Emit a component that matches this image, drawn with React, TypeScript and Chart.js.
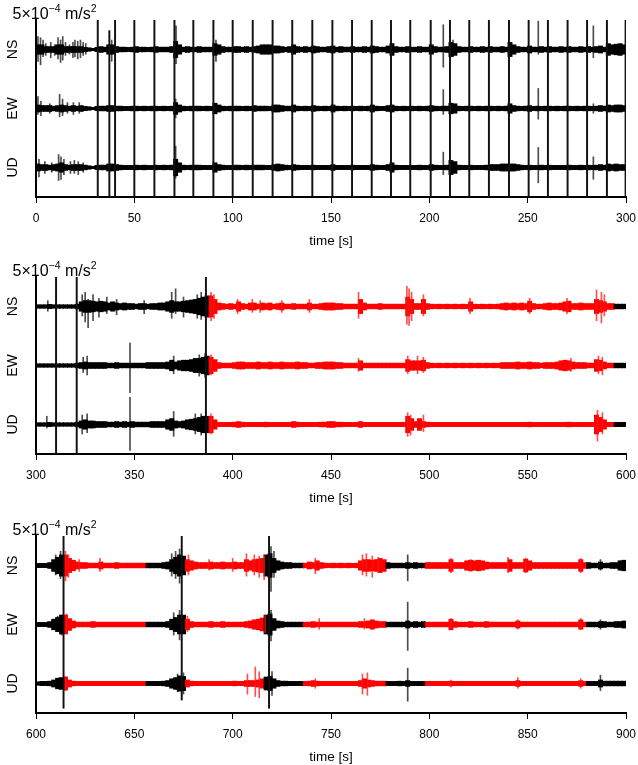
import { useEffect, useRef } from 'react';
import { Chart, registerables } from 'chart.js';

Chart.register(...registerables);

const FONT = '"Liberation Sans", Arial, Helvetica, sans-serif';

// channel names and vertical offsets (units of 1e-5 m/s^2, trace spacing = 5e-4 m/s^2)
const CHANNELS = ['NS', 'EW', 'UD'];
const OFFSETS = [100, 50, 0];
const Y_MIN = -25;
const Y_MAX = 125;
const BIN = 2; // seconds per envelope bin
const SPAN = 300;
const TICK_STEP = 50;
const X_TITLE = 'time [s]';
const TITLE_PARTS: [string, number, number][] = [
  ['5×10', 16, 0],
  ['−4', 10.5, -6.5],
  [' m/s', 16, 0],
  ['2', 10.5, -6.5],
];

const PANEL_STARTS = [0, 300, 600];

// ---------- panel 1 (0-300 s) envelope half-amplitudes, 2-s bins ----------
const p1NS = [
  4, 4, 2.5, 2.5, 2.5, 4, 4, 2.5, 2.5, 2.5,
  2.5, 2.5, 1.8, 1.5, 1, 1.8, 2.5, 2, 4, 4,
  2.5, 2, 2, 1.8, 2, 2.5, 2, 2, 1.8, 2,
  2.5, 2, 2, 2, 2.5, 7, 4, 2, 2.5, 2,
  2, 2.5, 2, 2, 2, 5, 4, 2.5, 2, 2,
  2.5, 2.5, 2, 2.5, 2, 2.5, 3, 4, 4, 4,
  3, 3, 2.5, 2, 2.5, 4, 2.5, 2, 2.5, 2,
  3, 2.5, 2, 2, 2.5, 3, 2, 2.5, 2, 2,
  2.5, 2, 2, 2.5, 2, 3, 2.5, 2, 2, 3,
  5, 2.5, 2, 2, 2.5, 2, 2, 2.5, 2, 2,
  4, 2.5, 2, 2, 2.5, 6, 5, 2.5, 2, 2,
  2.5, 2, 2, 2.5, 2, 2.5, 2, 2, 2.5, 2,
  6, 4, 2.5, 2, 2, 3, 2, 2, 2.5, 2,
  2.5, 2, 2, 2.5, 2, 2.5, 2, 2, 2.5, 2,
  2.5, 2, 2.5, 3, 2, 5, 4, 4.5, 5, 4,
];
const p1EW = [
  3, 2.5, 2.5, 2.5, 2, 2.5, 3, 2.5, 2, 2.5,
  2, 2.5, 1.8, 1.5, 1, 1.8, 2, 2, 2.5, 2.5,
  2, 2, 1.8, 1.8, 2, 2, 1.8, 2, 1.8, 2,
  2, 1.8, 2, 1.8, 2, 5, 3, 2, 1.8, 2,
  2, 2, 1.8, 2, 1.8, 4.5, 3, 2, 1.8, 2,
  2, 2, 1.8, 2, 1.8, 2.5, 2, 2, 2, 1.8,
  3, 3, 2.5, 2, 2, 3, 2, 1.8, 2, 1.8,
  2.5, 2, 1.8, 2, 1.8, 3, 2, 1.8, 2, 1.8,
  2, 1.8, 2, 1.8, 2, 3, 2, 1.8, 1.8, 2.5,
  3, 2, 1.8, 2, 1.8, 2, 1.8, 2, 1.8, 2,
  2.5, 2, 1.8, 2, 2, 4.5, 4, 2, 1.8, 2,
  2, 1.8, 2, 1.8, 2, 2, 1.8, 2, 1.8, 2,
  4, 2.5, 2, 1.8, 2, 2.5, 1.8, 2, 1.8, 2,
  2, 1.8, 2, 1.8, 2, 2, 1.8, 2, 1.8, 2,
  2, 1.8, 2, 2.5, 2, 3, 2.5, 3, 3, 2.5,
];
const p1UD = [
  3, 2.5, 2.5, 2, 2.5, 3, 4, 2.5, 2, 2.5,
  2.5, 2.5, 2, 1.5, 1, 1.8, 2, 2, 3, 3,
  2.5, 2, 1.8, 1.8, 1.8, 2, 1.8, 2, 1.8, 1.8,
  2, 1.8, 2, 1.8, 2, 7, 4, 2, 1.8, 2,
  2, 2, 1.8, 1.8, 1.8, 4, 2.5, 2, 1.8, 1.8,
  2, 2, 1.8, 2, 1.8, 2, 2, 2, 1.8, 1.8,
  2.5, 3, 2.5, 2, 1.8, 2.5, 2, 1.8, 1.8, 1.8,
  2, 1.8, 1.8, 1.8, 1.8, 2.5, 1.8, 1.8, 1.8, 1.8,
  2, 1.8, 1.8, 1.8, 1.8, 2.5, 2, 1.8, 1.8, 2.5,
  4, 2, 1.8, 1.8, 1.8, 1.8, 1.8, 2, 1.8, 1.8,
  2.5, 2, 1.8, 1.8, 2, 6, 5, 2, 1.8, 1.8,
  2, 1.8, 1.8, 1.8, 2, 2.5, 2.5, 2.5, 3, 3,
  3, 3, 2.5, 2, 1.8, 2, 1.8, 1.8, 2, 1.8,
  2, 1.8, 1.8, 1.8, 1.8, 2, 1.8, 1.8, 2, 1.8,
  2, 1.8, 2, 2.5, 2, 3, 2.5, 3, 2.5, 2.5,
];
// spikes: [time, up, down]
const p1NSSpikes = [
  [1, 11, 10], [2.3, 10, 13], [3.6, 8, 6], [5, 5, 5], [7.5, 6, 7], [9.5, 4, 5],
  [11.2, 10, 8], [12.5, 8, 11], [13.6, 11, 9], [15, 6, 5], [17, 4, 4], [18.8, 6, 7],
  [19.8, 8, 6], [21.2, 7, 8], [22.6, 8, 7], [24, 6, 5], [25.3, 5, 4],
  [38.5, 8, 10], [71.2, 20, 12], [91.5, 8, 10], [207.1, 21, 15], [212, 8, 6],
  [255.4, 24, 4], [283.4, 20, 7],
];
const p1EWSpikes = [
  [1, 10, 5], [2.5, 6, 6], [7, 4, 4], [12, 12, 7], [13.5, 8, 6], [16, 5, 4],
  [19, 5, 5], [22, 5, 4], [71, 8, 8], [207.1, 16, 5], [255.4, 17, 9], [283.4, 4, 4],
];
const p1UDSpikes = [
  [1.5, 7, 8], [4.5, 5, 5], [8, 4, 4], [11.5, 11, 11], [12.7, 9, 10], [14.2, 7, 6],
  [17.5, 5, 5], [19.5, 6, 5], [21.5, 5, 6], [24, 4, 4], [71, 18, 9],
  [207.1, 13, 6], [255.4, 17, 13], [283.4, 9, 10],
];
// full-height lines: [time, top, bottom]
const p1Lines = [
  [31.4, 125, -25], [37.3, 116, -25], [40.2, 125, -25], [50, 125, -25], [60.2, 125, -25],
  [70.4, 125, -25], [80, 125, -25], [90.2, 125, -25], [100, 125, -25], [110.2, 125, -25],
  [120.3, 125, -25], [130.3, 125, -25], [140.5, 125, -25], [150.7, 125, -25], [160.7, 125, -25],
  [170.7, 125, -25], [180.5, 125, -25], [190.3, 125, -25], [200.7, 125, -25], [210.5, 125, -25],
  [220.3, 125, -25], [230.3, 125, -25], [240.5, 125, -25], [250.5, 125, -25], [260.3, 125, -25],
  [270.3, 125, -25], [280.2, 125, -25], [290.3, 125, -25], [299.8, 125, -25],
];
const p1Red: number[][] = [];

// ---------- panel 2 (300-600 s) ----------
const p2NS = [
  1.5, 1.5, 1.5, 1.8, 1.5, 1.5, 1.5, 1.5, 1.5, 1.5,
  2, 4, 5, 5, 4.5, 4, 4.5, 4, 3, 4,
  3, 2.5, 3, 2.5, 2.5, 2, 2.5, 2.5, 2, 2.5,
  2.5, 3, 3, 4, 5, 4, 4, 4.5, 5, 5.5,
  6, 7, 8, 9, 9, 6, 3, 2.5, 2, 2.5,
  2, 4, 2.5, 2, 3, 3, 2, 3, 2.5, 3,
  2, 2.5, 3, 2, 2, 2.5, 2, 2, 2, 3,
  2, 2, 2.5, 3, 3, 3, 2.5, 2.5, 2, 2,
  2, 2, 6, 3, 2, 2, 2, 2.5, 2, 2,
  2, 2, 2, 2, 8, 6, 2.5, 2.5, 6, 2.5,
  2, 1.8, 2, 1.8, 2, 1.8, 2, 1.8, 2, 1.8,
  4, 2, 1.8, 2, 1.8, 2, 1.8, 2, 2.5, 3,
  2.5, 3, 2.5, 3, 2.5, 4.5, 2.5, 2, 2, 2.5,
  3, 2.5, 2.5, 3, 4, 4.5, 2.5, 2.5, 3, 2.5,
  2.5, 2.5, 6, 5, 4, 2.5, 2.5, 2, 2, 2,
];
const p2EW = [
  1.5, 1.5, 1.5, 1.5, 1.5, 1.5, 1.5, 1.5, 1.5, 1.5,
  2, 2.5, 3, 2.5, 2.5, 2.5, 2.5, 2.5, 2, 2,
  2.5, 2, 2, 2, 2, 2, 2, 2, 2.5, 2.5,
  2.5, 2.5, 2.5, 3, 4.5, 3, 4, 4.5, 4.5, 5,
  6, 6, 7, 8, 7, 5, 2.5, 2, 2, 2,
  2.5, 3, 3, 2.5, 2.5, 2.5, 3, 2.5, 2.5, 3,
  2.5, 2.5, 3, 2.5, 2.5, 2.5, 3, 2.5, 2.5, 2,
  2, 2.5, 2.5, 3, 3, 3, 2.5, 2.5, 2, 2,
  2, 2, 4, 2, 2, 2, 2, 2, 2, 2,
  2, 2, 2, 2, 5, 4, 4, 4, 4.5, 2.5,
  2, 1.8, 2, 1.8, 2, 1.8, 2, 1.8, 2, 1.8,
  2, 1.8, 2, 1.8, 2, 1.8, 2, 1.8, 2.5, 2.5,
  2.5, 2.5, 3, 2.5, 2.5, 3, 2.5, 2.5, 2, 2.5,
  2.5, 2.5, 3, 4, 4.5, 4, 3, 2.5, 2.5, 2.5,
  2, 2, 5, 4.5, 3, 2, 2, 2, 2, 2,
];
const p2UD = [
  1.5, 1.5, 1.5, 1.8, 1.5, 1.5, 1.5, 1.5, 1.5, 1.5,
  2, 3, 4, 3, 3, 2.5, 2.5, 2.5, 2, 2,
  2.5, 2, 2.5, 2, 2.5, 2, 2, 2, 2, 2.5,
  2.5, 2.5, 2.5, 4, 5, 3, 2.5, 3, 4, 4.5,
  5, 6, 7, 7, 7, 4, 1.8, 1.8, 1.8, 1.8,
  2, 2.5, 2, 1.8, 1.8, 1.8, 1.8, 1.8, 2, 1.8,
  1.8, 1.8, 1.8, 1.8, 1.8, 2.5, 2, 1.8, 1.8, 1.8,
  1.8, 1.8, 2, 2, 2.5, 2.5, 2, 2, 1.8, 1.8,
  1.8, 1.8, 2.5, 1.8, 1.8, 1.8, 1.8, 1.8, 1.8, 1.8,
  1.8, 1.8, 1.8, 1.8, 7, 5, 2.5, 5, 2.5, 2,
  1.8, 1.8, 1.8, 1.8, 1.8, 1.8, 1.8, 1.8, 1.8, 1.8,
  1.8, 1.8, 1.8, 1.8, 1.8, 1.8, 1.8, 1.8, 1.8, 1.8,
  1.8, 1.8, 1.8, 1.8, 1.8, 2, 1.8, 1.8, 1.8, 1.8,
  1.8, 1.8, 1.8, 1.8, 1.8, 2, 1.8, 1.8, 1.8, 1.8,
  1.8, 1.8, 8, 6, 4, 1.8, 1.8, 1.8, 1.8, 1.8,
];
const p2NSSpikes = [
  [306, 5, 4], [323.5, 10, 8], [325, 12, 13], [326.5, 6, 18], [329, 10, 12], [332, 7, 9],
  [336, 8, 6], [341, 6, 7], [355, 5, 6], [369, 12, 10], [371, 15, 6], [375, 8, 9],
  [382, 10, 10], [384, 12, 11], [389, 12, 12], [390.5, 10, 10], [402.5, 6, 6], [410, 6, 5],
  [414, 5, 5], [425, 5, 5], [439, 6, 5], [464, 12, 10], [488.6, 17, 15], [489.7, 15, 16],
  [491, 12, 12], [497, 10, 8], [520.7, 7, 6], [551, 7, 6], [570, 7, 6], [585, 14, 12],
  [587.5, 12, 14], [589, 10, 8],
];
const p2EWSpikes = [
  [324, 7, 6], [326, 8, 8], [347.8, 19, 23], [370, 8, 7], [383, 9, 9], [386, 10, 10],
  [389, 9, 8], [464, 6, 5], [489, 8, 7], [494, 8, 7], [497, 7, 6], [572, 6, 5],
  [586, 8, 7], [588, 7, 8],
];
const p2UDSpikes = [
  [305.5, 7, 3], [323.5, 8, 8], [326, 9, 7], [347.8, 23, 22], [370, 11, 10], [381, 9, 8],
  [384, 9, 9], [389, 9, 8], [489, 10, 10], [490.5, 8, 9], [497, 8, 6], [585.5, 12, 14],
  [588, 10, 8],
];
const p2Lines = [[310.2, 125, -25], [320.7, 125, -25], [386.4, 125, -25]];
const p2Red = [[388, 595]];

// ---------- panel 3 (600-900 s) ----------
const p3NS = [
  1.8, 1.8, 1.8, 2.5, 5, 7, 9, 9, 6, 4.5,
  3, 2.5, 2.5, 2, 2, 2, 3, 2, 2, 2,
  2.5, 2, 2, 2, 2, 2, 2, 2, 2, 2,
  2, 2, 2.5, 3, 5, 7, 9, 8, 5, 4,
  3, 2.5, 2.5, 2.5, 3, 2.5, 2.5, 3, 2.5, 2.5,
  3, 2.5, 2.5, 5, 4, 5, 5.5, 6, 9, 10,
  6, 4, 3, 2.5, 2.5, 2, 2, 2, 2, 3,
  2.5, 4, 2.5, 2, 1.8, 2, 1.8, 2, 1.8, 2,
  1.8, 2, 4, 5, 5, 4.5, 5, 6, 5, 2.5,
  2, 2, 2, 2, 2.5, 2, 2.5, 2, 2, 2.5,
  2.5, 2.5, 2.5, 2.5, 2.5, 5, 2.5, 2.5, 2.5, 4,
  4.5, 4, 4.5, 4, 3, 2.5, 2.5, 2.5, 2.5, 2.5,
  5, 2.5, 2.5, 2.5, 5.5, 4, 2.5, 2.5, 2.5, 2.5,
  2.5, 2.5, 2.5, 2.5, 2.5, 2.5, 2.5, 2.5, 5, 2.5,
  2.5, 2, 2, 3, 2, 2, 2.5, 2.5, 4, 4.5,
];
const p3EW = [
  1.8, 1.8, 1.8, 2.5, 4.5, 6, 8, 8, 5, 3,
  2, 2, 2, 2, 2.5, 2, 2, 2, 2, 2,
  2, 2, 2, 2, 2, 2, 2, 2, 2, 2,
  2, 2, 2, 2.5, 4.5, 6, 8, 8, 4.5, 2.5,
  2, 2, 2, 2, 2.5, 2, 2, 2.5, 2, 2,
  2, 2, 2, 2.5, 3, 4, 4.5, 5.5, 8, 9,
  5, 3, 2.5, 2, 2, 2, 2, 2, 2, 2,
  2.5, 2, 2, 2, 2, 2, 2, 2, 2, 2,
  2, 2, 2.5, 2.5, 3, 4, 3, 2.5, 2.5, 2,
  2, 2, 2, 2, 3, 2, 2.5, 2, 2.5, 2,
  2, 2, 2, 2, 2, 4.5, 2.5, 2, 2, 2,
  2.5, 2, 2, 2, 2.5, 2, 2, 2, 2, 2,
  2, 2, 3, 2, 2, 2, 2, 2, 2, 2,
  2, 2, 2, 2, 2, 2, 2, 2, 4, 2,
  2, 2, 2, 2.5, 2.5, 2, 2, 2.5, 2.5, 3,
];
const p3UD = [
  1.5, 1.8, 1.8, 2, 3, 4.5, 5, 5.5, 3, 2,
  1.8, 1.8, 1.8, 1.8, 1.8, 1.8, 1.8, 1.8, 1.8, 1.8,
  1.8, 1.8, 1.8, 1.8, 1.8, 1.8, 1.8, 1.8, 1.8, 1.8,
  1.8, 1.8, 2, 2.5, 4, 5, 6.5, 6, 3, 2,
  1.8, 1.8, 1.8, 1.8, 1.8, 1.8, 1.8, 1.8, 1.8, 1.8,
  2, 1.8, 1.8, 2.5, 2.5, 2.5, 3, 4, 5.5, 6,
  4, 2.5, 2, 2, 1.8, 1.8, 1.8, 1.8, 1.8, 2,
  2.5, 2, 1.8, 1.8, 1.8, 1.8, 1.8, 1.8, 1.8, 1.8,
  1.8, 1.8, 2.5, 4, 3, 2.5, 2, 2, 2, 1.8,
  1.8, 1.8, 2, 1.8, 2.5, 1.8, 1.8, 1.8, 1.8, 1.8,
  1.8, 1.8, 1.8, 1.8, 1.8, 2, 1.8, 1.8, 1.8, 1.8,
  1.8, 1.8, 1.8, 1.8, 1.8, 1.8, 1.8, 1.8, 1.8, 1.8,
  1.8, 1.8, 2.5, 1.8, 1.8, 1.8, 1.8, 1.8, 1.8, 1.8,
  1.8, 1.8, 1.8, 1.8, 1.8, 1.8, 1.8, 1.8, 2.5, 1.8,
  1.8, 1.8, 1.8, 3, 2, 2, 2, 2, 2, 2,
];
const p3NSSpikes = [
  [610, 9, 8], [612.5, 12, 11], [615, 12, 13], [616.5, 9, 10], [622, 5, 5], [632.5, 6, 5],
  [669, 10, 9], [671, 12, 11], [673, 14, 15], [677.5, 9, 8], [688, 5, 4], [700, 6, 5],
  [707, 10, 9], [711, 9, 8], [713.5, 8, 10], [716, 9, 12], [719.5, 16, 22], [721, 12, 10],
  [742, 6, 7], [766, 9, 8], [768, 10, 9], [771, 8, 10], [774, 7, 6], [789, 9, 13],
  [811, 6, 6], [821, 5, 5], [840, 7, 6], [849, 6, 6], [877, 6, 6], [887, 5, 4], [897, 4, 4],
];
const p3EWSpikes = [
  [611, 7, 6], [613, 8, 9], [615.5, 9, 8], [670, 10, 9], [673, 12, 13], [677, 7, 6],
  [716.5, 8, 7], [719.5, 12, 14], [744, 5, 4], [767, 5, 4], [789, 19, 22], [811, 5, 4],
  [845, 4, 4], [877, 5, 4], [887, 4, 4],
];
const p3UDSpikes = [
  [612, 5, 5], [615, 6, 6], [672, 8, 7], [675, 9, 9], [707.5, 8, 9], [711.5, 14, 11],
  [713.5, 10, 12], [720, 10, 10], [742, 4, 4], [766, 8, 9], [768.5, 9, 10], [789, 13, 15],
  [811, 3, 3], [845, 5, 4], [877, 4, 4], [887, 7, 6],
];
const p3Lines = [[614, 125, -21], [674.1, 125, -14], [718.5, 125, -21]];
const p3Red = [[614, 656], [676, 717], [737, 778], [799, 881]];

const PANELS = [
  { start: PANEL_STARTS[0], env: [p1NS, p1EW, p1UD], spikes: [p1NSSpikes, p1EWSpikes, p1UDSpikes], lines: p1Lines, red: p1Red },
  { start: PANEL_STARTS[1], env: [p2NS, p2EW, p2UD], spikes: [p2NSSpikes, p2EWSpikes, p2UDSpikes], lines: p2Lines, red: p2Red },
  { start: PANEL_STARTS[2], env: [p3NS, p3EW, p3UD], spikes: [p3NSSpikes, p3EWSpikes, p3UDSpikes], lines: p3Lines, red: p3Red },
];

const textPlugin = {
  id: 'panelText',
  afterDraw(chart: any) {
    const ctx = chart.ctx;
    const yScale = chart.scales.y;
    ctx.save();
    ctx.fillStyle = '#000';
    ctx.textBaseline = 'alphabetic';
    ctx.textAlign = 'left';
    let x = 12.5;
    const base = 18.5;
    for (const [txt, size, dy] of TITLE_PARTS) {
      ctx.font = `${size}px ${FONT}`;
      ctx.fillText(txt, x, base + dy);
      x += ctx.measureText(txt).width;
    }
    ctx.font = `14px ${FONT}`;
    ctx.textAlign = 'center';
    CHANNELS.forEach((name, k) => {
      ctx.save();
      ctx.translate(16.5, yScale.getPixelForValue(OFFSETS[k]));
      ctx.rotate(-Math.PI / 2);
      ctx.fillText(name, 0, 0);
      ctx.restore();
    });
    ctx.restore();
  },
};

function Panel({ cfg, top }: { cfg: any; top: number }) {
  const ref = useRef<HTMLCanvasElement | null>(null);
  useEffect(() => {
    const isRed = (t: number) => cfg.red.some(([a, b]: number[]) => t >= a && t < b);
    const bandColor = (c: any) => (c.raw && isRed(c.raw.x) ? '#ff0000' : '#000000');
    const spikeColor = (c: any) => (c.raw && isRed(c.raw.x) ? 'rgba(255,20,20,0.75)' : 'rgba(0,0,0,0.7)');
    const datasets: any[] = [];
    datasets.push({
      data: cfg.lines.map(([t, hi, lo]: number[]) => ({ x: t, y: [lo, hi] })),
      backgroundColor: '#111111',
      barThickness: 1.3,
      order: 0,
      grouped: false,
    });
    cfg.spikes.forEach((sp: number[][], k: number) => {
      datasets.push({
        data: sp.map(([t, up, down]) => ({ x: t, y: [OFFSETS[k] - down, OFFSETS[k] + up] })),
        backgroundColor: spikeColor,
        barThickness: 1,
        order: 1,
        grouped: false,
      });
    });
    cfg.env.forEach((env: number[], k: number) => {
      datasets.push({
        data: env.map((a, i) => ({ x: cfg.start + BIN * i + BIN / 2, y: [OFFSETS[k] - a, OFFSETS[k] + a] })),
        backgroundColor: bandColor,
        barThickness: 4.3,
        order: 2,
        grouped: false,
      });
    });
    const chart = new Chart(ref.current as HTMLCanvasElement, {
      type: 'bar',
      data: { datasets },
      plugins: [textPlugin],
      options: {
        responsive: false,
        animation: false,
        events: [],
        layout: { padding: { top: 20, right: 12, left: 0, bottom: 0 } },
        plugins: { legend: { display: false }, tooltip: { enabled: false }, title: { display: false } },
        scales: {
          x: {
            type: 'linear',
            min: cfg.start,
            max: cfg.start + SPAN,
            offset: false,
            ticks: { stepSize: TICK_STEP, color: '#000', font: { family: FONT, size: 12 }, padding: 8, maxRotation: 0, autoSkip: false },
            grid: { display: true, drawOnChartArea: false, drawTicks: true, tickLength: 6, color: '#000', lineWidth: 1, offset: false },
            border: { display: true, color: '#000', width: 2 },
            title: { display: true, text: X_TITLE, color: '#000', font: { family: FONT, size: 13.5 }, padding: { top: 0, bottom: 6 } },
            afterFit: (s: any) => { s.height = 58; s.paddingLeft = 0; s.paddingRight = 0; },
          },
          y: {
            type: 'linear',
            min: Y_MIN,
            max: Y_MAX,
            ticks: { display: false },
            grid: { display: false },
            border: { display: true, color: '#000', width: 2 },
            afterFit: (s: any) => { s.width = 36; s.paddingTop = 0; s.paddingBottom = 0; },
          },
        },
      } as any,
    });
    return () => chart.destroy();
  }, [cfg]);
  return (
    <div style={{ position: 'absolute', left: 0, top, width: 638, height: 255 }}>
      <canvas ref={ref} width={638} height={255} style={{ display: 'block', width: 638, height: 255 }} />
    </div>
  );
}

export default function App() {
  return (
    <div style={{ position: 'absolute', left: 0, top: 0, width: 638, height: 765, overflow: 'hidden', background: '#fff' }}>
      <Panel cfg={PANELS[0]} top={0} />
      <Panel cfg={PANELS[1]} top={257} />
      <Panel cfg={PANELS[2]} top={516} />
    </div>
  );
}
